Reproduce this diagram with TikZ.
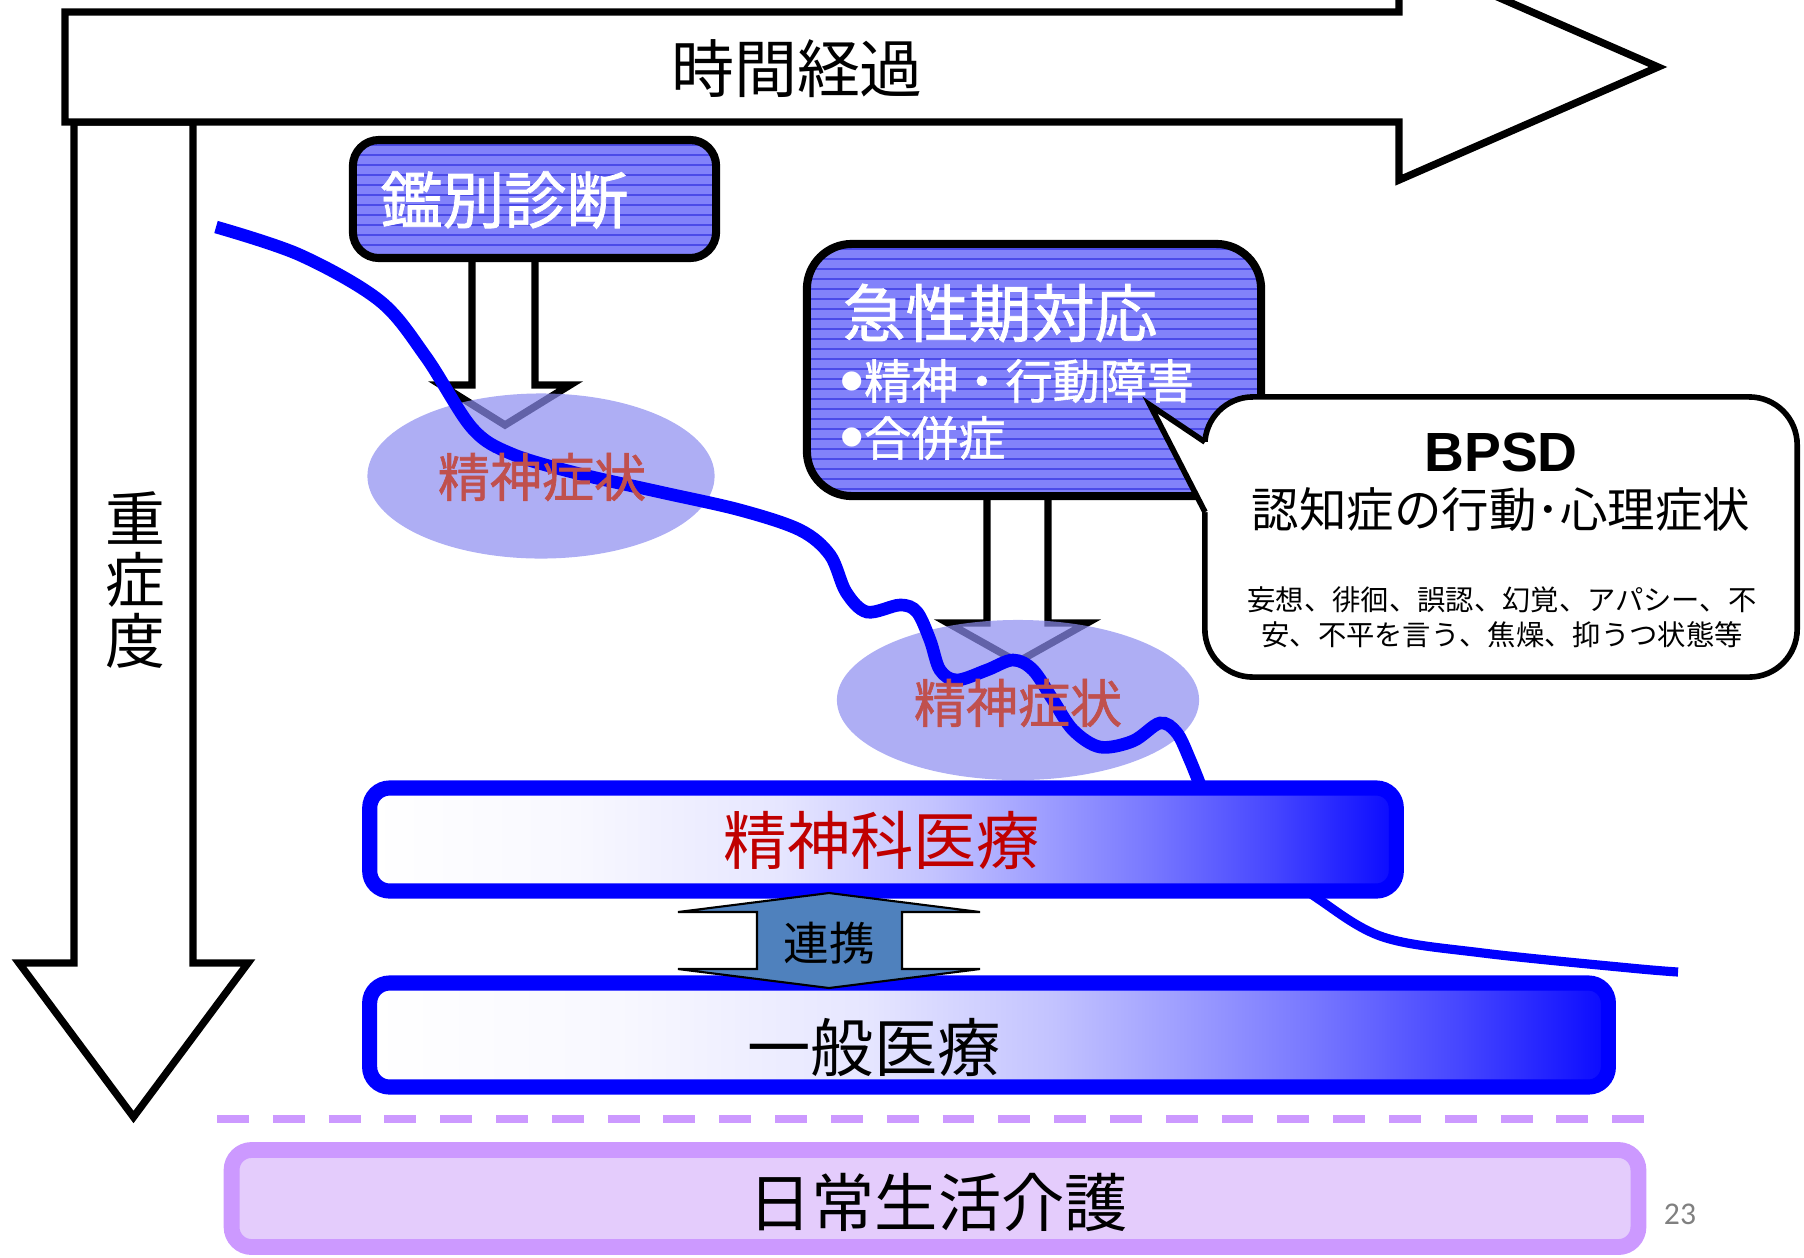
\documentclass[tikz,border=0pt]{standalone}
\usepackage{fontspec}
\setmainfont{Noto Sans CJK JP}
\newfontfamily\latinfont{Liberation Sans}
\newfontfamily\pagefont{Carlito}
\newfontfamily\boldjp[FakeBold=1.2]{Noto Sans CJK JP}
\usetikzlibrary{shapes.geometric}
\newcommand{\myfs}[1]{\fontsize{#1}{#1}\selectfont}
\newcommand{\bigbul}{\smash{\raisebox{-1.2pt}{\latinfont\bfseries\fontsize{19}{19}\selectfont •}}}
\definecolor{boxblue}{RGB}{130,130,250}
\definecolor{stripeblue}{RGB}{75,75,232}
\definecolor{ellblue}{RGB}{140,140,240}
\definecolor{bandend}{RGB}{10,10,255}
\definecolor{bs1}{RGB}{248,248,255}
\definecolor{bs2}{RGB}{230,230,255}
\definecolor{bs3}{RGB}{195,195,255}
\definecolor{bs4}{RGB}{160,160,255}
\definecolor{bs5}{RGB}{120,120,255}
\definecolor{bs6}{RGB}{70,70,255}
\definecolor{symred}{RGB}{192,80,77}
\definecolor{darkred}{RGB}{192,0,0}
\definecolor{steel}{RGB}{79,129,189}
\definecolor{lav}{RGB}{204,153,255}
\definecolor{lavfill}{RGB}{228,204,252}
\definecolor{pagegray}{RGB}{128,128,128}
\pgfdeclarehorizontalshading{bandshade}{100bp}{color(0bp)=(white); color(25bp)=(white); color(35bp)=(bs1); color(45bp)=(bs2); color(52.5bp)=(bs3); color(57.5bp)=(bs4); color(63bp)=(bs5); color(69bp)=(bs6); color(75bp)=(bandend); color(100bp)=(bandend)}
\begin{document}
\begin{tikzpicture}[x=0.01cm,y=-0.01cm,
  outl/.style={draw=black, line width=2.1pt, fill=white, line join=miter},
  bluebox/.style={draw=black, line width=2.3pt, fill=boxblue, inner sep=0pt, outer sep=0pt,
    path picture={\foreach \k in {0,...,30}{\draw[stripeblue, line width=0.35pt] ([yshift={-\k*0.1cm-0.05cm}]path picture bounding box.north west) -- ([yshift={-\k*0.1cm-0.05cm}]path picture bounding box.north east);}}},
  ell/.style={ellipse, fill=ellblue, fill opacity=0.7, inner sep=0pt},
  curve/.style={draw=blue, line width=3.6pt},
  band/.style={draw=blue, line width=4.3pt, shade, shading=bandshade, rounded corners=0.2cm, inner sep=0pt},
  wtext/.style={text=white, inner sep=0pt, anchor=west},
  symtext/.style={text=symred, inner sep=0pt, font=\boldjp\myfs{14.8}},
  bigtext/.style={inner sep=0pt, font=\myfs{18}}
]
\useasboundingbox (0,0) rectangle (1804,1257);
% severity arrow
\draw[outl] (74,122) -- (74,963) -- (19,963) -- (133.5,1117) -- (248,963) -- (193,963) -- (193,122) -- cycle;
% time arrow
\draw[outl] (65,12) -- (1399,12) -- (1399,-46) -- (1658,67) -- (1399,180) -- (1399,122) -- (65,122) -- cycle;
\node[bigtext, font=\myfs{17.9}] (time) at (797,69) {時間経過};
\node[inner sep=0pt, align=center, font=\fontsize{17}{17.3}\selectfont] (sev) at (135,580) {重\\症\\度};
% down arrows
\draw[outl] (472,250) -- (472,385) -- (441,385) -- (505,425) -- (570,385) -- (535,385) -- (535,250) -- cycle;
\draw[outl] (987,490) -- (987,623) -- (948,623) -- (1017.5,662) -- (1087,623) -- (1048,623) -- (1048,490) -- cycle;
% blue boxes
\node[bluebox, rounded corners=0.26cm, minimum width=3.63cm, minimum height=1.18cm] (diag) at (534.5,199) {};
\node[wtext, font=\boldjp\myfs{17.6}] (diagtext) at (380,200) {鑑別診断};
\node[bluebox, rounded corners=0.45cm, minimum width=4.54cm, minimum height=2.52cm] (acute) at (1034,370) {};
\node[wtext, font=\boldjp\myfs{17.9}] (acute1) at (842,313) {急性期対応};
\node[wtext, font=\boldjp\myfs{13.4}] (acute2) at (840,381) {\bigbul 精神・行動障害};
\node[wtext, font=\boldjp\myfs{13.4}] (acute3) at (840,438) {\bigbul 合併症};
% ellipses
\node[ell, minimum width=3.47cm, minimum height=1.65cm] (ell1) at (541,476) {};
\node[ell, minimum width=3.62cm, minimum height=1.60cm] (ell2) at (1018,700) {};
% curve
\draw[curve] plot[smooth, tension=0.55] coordinates {(216,227) (300,255) (380,301) (426,357) (472,428) (512,454) (580,474) (660,492) (740,510) (800,530) (830,555) (846,592) (867,612) (900,605) (917,612) (930,640) (940,670) (957,680) (987,670) (1013,660) (1033,670) (1053,700) (1073,730) (1100,747) (1133,741) (1160,723) (1177,733) (1190,760) (1202,790)};
\draw[draw=blue, line width=2.6pt] plot[smooth, tension=0.55] coordinates {(1202,790) (1260,855) (1317,898) (1383,937) (1483,953) (1630,968) (1678,972)};
\node[symtext] (sym1) at (542,477) {精神症状};
\node[symtext] (sym2) at (1018,703) {精神症状};
% BPSD callout
\node[draw=black, fill=white, line width=1.6pt, rounded corners=0.48cm, minimum width=5.92cm, minimum height=2.80cm, inner sep=0pt] (bpsd) at (1501,537) {};
\coordinate (tailtip) at (1150,405);
\coordinate (tailA) at (1205,442);
\coordinate (tailB) at (1205,512);
\fill[white] (tailA) -- (tailtip) -- (tailB) -- ([xshift=0.08cm]tailB) -- ([xshift=0.08cm]tailA) -- cycle;
\draw[black, line width=1.6pt, line join=miter] (tailA) -- (tailtip) -- (tailB);
\node[inner sep=0pt, font=\latinfont\bfseries\myfs{15.7}] (bpsdt) at (1501,452) {BPSD};
\node[inner sep=0pt, font=\myfs{13.5}] (bpsd2) at (1501,510) {認知症の行動･心理症状};
\node[inner sep=0pt, font=\myfs{8.05}] (bpsd3) at (1502,600) {妄想、徘徊、誤認、幻覚、アパシー、不};
\node[inner sep=0pt, font=\myfs{8.05}] (bpsd4) at (1502,635) {安、不平を言う、焦燥、抑うつ状態等};
% bands
\node[band, minimum width=10.26cm, minimum height=1.03cm] (psych) at (883,839.5) {};
\node[bigtext, text=darkred] (psycht) at (882,840) {精神科医療};
\node[band, minimum width=12.38cm, minimum height=1.04cm] (gen) at (989,1035) {};
\node[bigtext] (gent) at (874,1047) {一般医療};
% renkei double arrow
\draw[fill=steel, draw=black, line width=0.6pt] (829,893) -- (980,912) -- (902,912) -- (902,969) -- (980,969) -- (829,988) -- (678,969) -- (757,969) -- (757,912) -- (678,912) -- cycle;
\node[inner sep=0pt, font=\myfs{13}] (renkei) at (829,943) {連携};
% dashed separator
\coordinate (dashL) at (217,1119);
\coordinate (dashR) at (1651,1119);
\draw[lav, line width=2.3pt, dash pattern=on 9.07pt off 6.8pt] (dashL) -- (dashR);
% daily care band
\node[draw=lav, fill=lavfill, line width=4.5pt, rounded corners=0.2cm, minimum width=14.06cm, minimum height=0.97cm, inner sep=0pt] (care) at (935,1198.5) {};
\node[bigtext] (caret) at (938,1202) {日常生活介護};
\node[inner sep=0pt, text=pagegray, font=\pagefont\myfs{9}] (pg) at (1680,1214) {23};
\end{tikzpicture}
\end{document}
